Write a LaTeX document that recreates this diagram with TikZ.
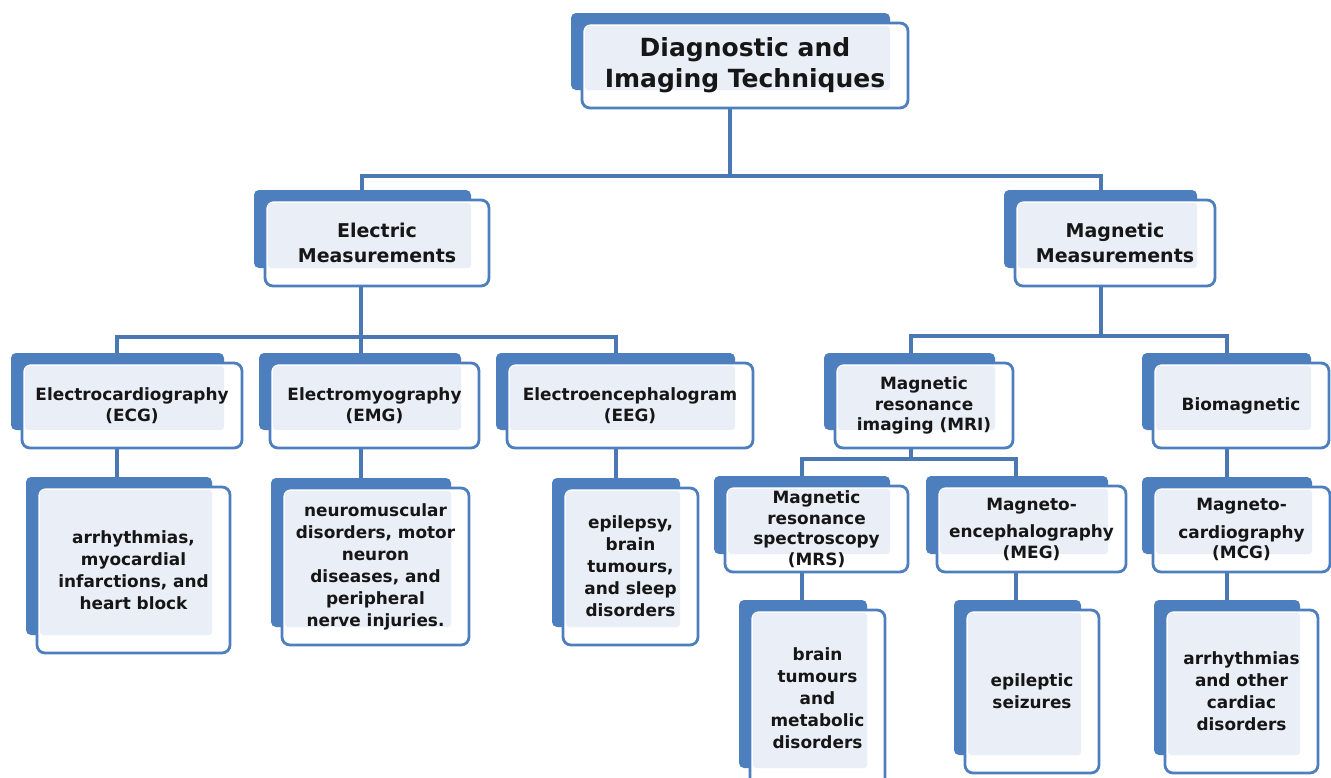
\documentclass[tikz,border=0pt]{standalone}
\usepackage{fontspec}
\setmainfont{DejaVu Sans}[BoldFont={DejaVu Sans Bold}]
\usetikzlibrary{backgrounds}
\definecolor{blu}{HTML}{4D7EBE}
\definecolor{lnk}{HTML}{4A78B3}
\definecolor{lite}{HTML}{EAEEF6}
\definecolor{txt}{HTML}{161616}
\tikzset{
  frontbox/.style={draw=blu, line width=2.8pt, rounded corners=8pt, inner sep=0pt,
    align=center, text=txt},
  conn/.style={draw=lnk, line width=3.8pt},
  froot/.style={font=\bfseries\fontsize{25pt}{31pt}\selectfont},
  fmid/.style={font=\bfseries\fontsize{19pt}{25pt}\selectfont},
  fsm/.style={font=\bfseries\fontsize{16.9pt}{20.5pt}\selectfont},
  fleaf/.style={font=\bfseries\fontsize{16.9pt}{22pt}\selectfont},
}
% name, left, top, right, bottom, style, text
\newcommand\tbx[7]{%
  \fill[blu, rounded corners=5pt] (#2-11,#3-10) rectangle (#4-18,#5-18);
  \fill[white, rounded corners=8pt] (#2,#3) rectangle (#4,#5);
  \fill[lite, rounded corners=3pt] (#2+3,#3+3) rectangle (#4-18,#5-18);
  \node[frontbox, #6, minimum width={(#4-#2)*1pt}, minimum height={(#5-#3)*1pt}]
    (#1) at ({(#2+#4)/2},{(#3+#5)/2}) {#7};
}
\begin{document}
\begin{tikzpicture}[x=1pt, y=-1pt]
\useasboundingbox (0,0) rectangle (1331,777);
\clip (0,0) rectangle (1331,777);

\tbx{root}{582}{23}{908}{108}{froot}{Diagnostic and\\Imaging Techniques}
\tbx{elec}{265}{200}{489}{286}{fmid}{Electric\\Measurements}
\tbx{mag}{1015}{200}{1215}{286}{fmid}{Magnetic\\Measurements}

\tbx{ecg}{22}{363}{242}{448}{fsm}{Electrocardiography\\(ECG)}
\tbx{emg}{270}{363}{479}{448}{fsm}{Electromyography\\(EMG)}
\tbx{eeg}{507}{363}{753}{448}{fsm}{Electroencephalogram\\(EEG)}
\tbx{mri}{835}{363}{1013}{448}{fsm}{Magnetic\\resonance\\imaging (MRI)}
\tbx{bio}{1153}{363}{1329}{448}{fsm}{Biomagnetic}

\tbx{ecgd}{37}{487}{230}{653}{fleaf}{arrhythmias,\\myocardial\\infarctions, and\\heart block}
\tbx{emgd}{282}{488}{469}{645}{fleaf}{neuromuscular\\disorders, motor\\neuron\\diseases, and\\peripheral\\nerve injuries.}
\tbx{eegd}{563}{488}{698}{645}{fleaf}{epilepsy,\\brain\\tumours,\\and sleep\\disorders}

\tbx{mrs}{725}{486}{908}{572}{fsm}{Magnetic\\resonance\\spectroscopy\\(MRS)}
\tbx{meg}{937}{486}{1126}{572}{fsm}{Magneto-\\[7pt]encephalography\\(MEG)}
\tbx{mcg}{1153}{487}{1330}{572}{fsm}{Magneto-\\[7pt]cardiography\\(MCG)}

\tbx{mrsd}{750}{610}{885}{786}{fleaf}{brain\\tumours\\and\\metabolic\\disorders}
\tbx{megd}{965}{610}{1099}{773}{fleaf}{epileptic\\seizures}
\tbx{mcgd}{1165}{610}{1318}{773}{fleaf}{arrhythmias\\and other\\cardiac\\disorders}

\begin{pgfonlayer}{background}
  \fill[white] (0,0) rectangle (1331,777);
  \coordinate (r1) at (730,176);
  \coordinate (r2) at (362,176);
  \coordinate (r3) at (1101,176);
  \draw[conn] (root.center -| r1) -- (r1);
  \draw[conn] (elec.center -| r2) |- (r3) -- (mag.center -| r3);

  \coordinate (e1) at (361,337);
  \coordinate (e2) at (117,337);
  \coordinate (e3) at (616,337);
  \draw[conn] (elec.center -| e1) -- (emg.center -| e1);
  \draw[conn] (ecg.center -| e2) |- (e3) -- (eeg.center -| e3);
  \draw[conn] (ecg.center -| e2) -- (ecgd.center -| e2);
  \draw[conn] (emg.center -| e1) -- (emgd.center -| e1);
  \draw[conn] (eeg.center -| e3) -- (eegd.center -| e3);

  \coordinate (m1) at (1101,336);
  \coordinate (m2) at (911,336);
  \coordinate (m3) at (1227,336);
  \draw[conn] (mag.center -| m1) -- (m1);
  \draw[conn] (mri.center -| m2) |- (m3) -- (bio.center -| m3);
  \draw[conn] (bio.center -| m3) -- (mcg.center -| m3);
  \draw[conn] (mcg.center -| m3) -- (mcgd.center -| m3);

  \coordinate (k1) at (911,459);
  \coordinate (k2) at (802,459);
  \coordinate (k3) at (1016,459);
  \draw[conn] (mri.center -| k1) -- (k1);
  \draw[conn] (mrs.center -| k2) |- (k3) -- (meg.center -| k3);
  \draw[conn] (mrs.center -| k2) -- (mrsd.center -| k2);
  \draw[conn] (meg.center -| k3) -- (megd.center -| k3);
\end{pgfonlayer}
\end{tikzpicture}
\end{document}
